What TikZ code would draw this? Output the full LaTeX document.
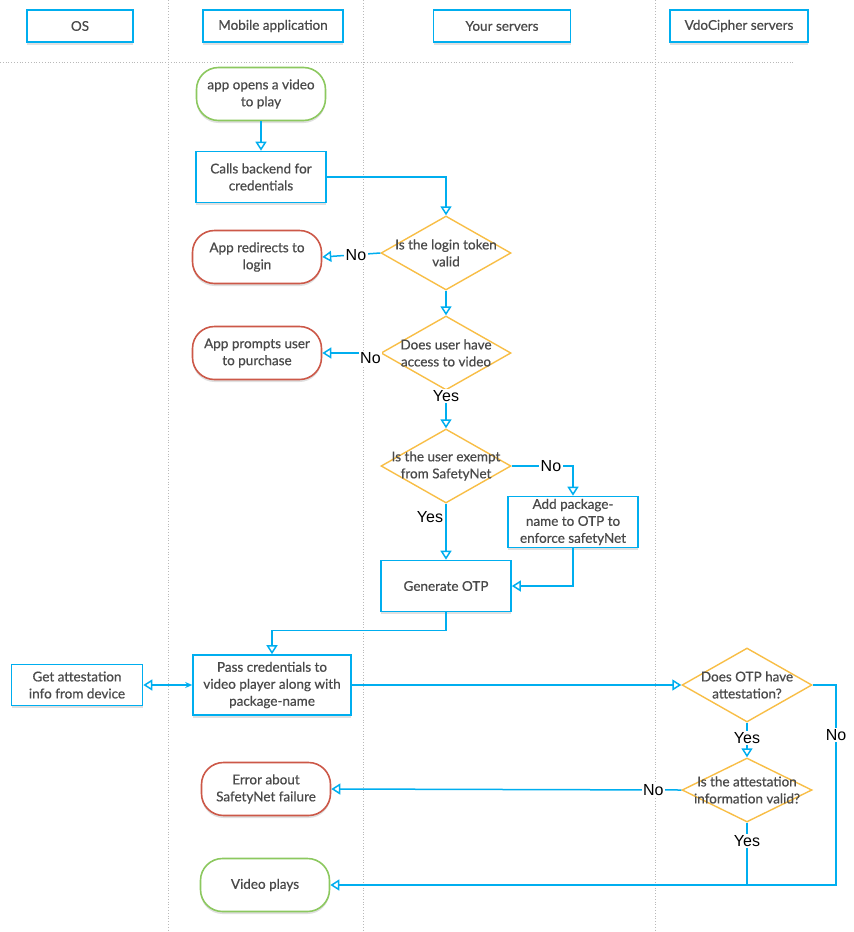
\documentclass[tikz,border=0pt]{standalone}
\usepackage{fontspec}
\setmainfont{Lato}
\newfontfamily\bodyfont{Lato}[FakeBold=0.6]
\newfontfamily\lblfont{Liberation Sans}
\usetikzlibrary{arrows.meta, shapes.geometric, shadows}

\definecolor{flowblue}{RGB}{0,174,239}
\definecolor{flowgold}{RGB}{248,190,70}
\definecolor{flowred}{RGB}{204,88,72}
\definecolor{flowgreen}{RGB}{140,200,95}
\definecolor{flowtext}{RGB}{74,74,74}

\begin{document}
\begin{tikzpicture}[x=1pt, y=-1pt,
    every node/.style={font=\bodyfont\fontsize{13.5}{17}\selectfont, text=flowtext, align=center},
    lane/.style={gray!55, dotted, line width=0.8pt},
    boxshadow/.style={drop shadow={shadow xshift=0pt, shadow yshift=-2.5pt, fill=black!12, opacity=1}},
    head/.style={draw=flowblue, line width=1.8pt, fill=white, minimum height=32pt, boxshadow},
    process/.style={draw=flowblue, line width=1.6pt, fill=white, minimum width=130pt, minimum height=51pt, inner sep=2pt, boxshadow},
    terminal/.style={rounded corners=22pt, line width=1.6pt, fill=white, minimum width=129pt, minimum height=53pt, boxshadow},
    decision/.style={diamond, draw=flowgold, line width=1.4pt, fill=white, minimum width=130pt, minimum height=74pt, inner sep=0pt},
    lbl/.style={font=\lblfont\fontsize{16}{18}\selectfont, text=black, fill=white, inner sep=1.5pt},
    flow/.style={draw=flowblue, line width=1.5pt, -{Triangle[open, length=9pt, width=11pt]}},
]
    \useasboundingbox (0,0) rectangle (854,932);

    % swim lanes
    \draw[lane] (168,0) -- (168,932);
    \draw[lane] (363,0) -- (363,932);
    \draw[lane] (655,0) -- (655,932);
    \draw[lane] (0,62) -- (795,62);

    % lane headers
    \node[head, minimum width=106pt] (hos) at (80,26) {OS};
    \node[head, minimum width=140pt] (hmob) at (273,26) {Mobile application};
    \node[head, minimum width=137pt] (hsrv) at (502,26) {Your servers};
    \node[head, minimum width=138pt] (hvdo) at (739,26) {VdoCipher servers};

    % mobile application
    \node[terminal, draw=flowgreen] (start) at (261,94) {app opens a video\\to play};
    \node[process] (calls) at (261,177) {Calls backend for\\credentials};
    \node[terminal, draw=flowred] (redir) at (257,257) {App redirects to\\login};
    \node[terminal, draw=flowred] (prompt) at (257,353) {App prompts user\\to purchase};
    \node[process, minimum width=158pt, minimum height=60pt] (pass) at (272,685) {Pass credentials to\\video player along with\\package-name};
    \node[terminal, draw=flowred] (err) at (266,789) {Error about\\SafetyNet failure};
    \node[terminal, draw=flowgreen] (play) at (265,885) {Video plays};

    % OS
    \node[process, minimum width=131pt, minimum height=41pt] (attest) at (77,685) {Get attestation\\info from device};

    % your servers
    \node[decision, label={center:Is the login token\\valid}] (login) at (446,253) {};
    \node[decision, label={center:Does user have\\access to video}] (access) at (446,353) {};
    \node[decision, label={center:Is the user exempt\\from SafetyNet}] (exempt) at (446,466) {};
    \node[process] (addpkg) at (573,522) {Add package-\\name to OTP to\\enforce safetyNet};
    \node[process] (otp) at (446,586) {Generate OTP};

    % vdocipher servers
    \node[decision, label={center:Does OTP have\\attestation?}] (hasatt) at (747,685) {};
    \node[decision, minimum height=64pt, label={center:Is the attestation\\information valid?}] (valid) at (747,790) {};
    \coordinate (turn) at (836,685);
    \coordinate (back) at (836,885);

    % flow
    \draw[flow] (start) -- (calls);
    \draw[flow] (calls.east) -| (login.north);
    \draw[flow] (login.west) -- node[lbl, pos=0.42]{No} (redir.east);
    \draw[flow] (login.south) -- (access.north);
    \draw[flow] (access.west) -- node[lbl, pos=0.17, yshift=-5pt]{No} (prompt.east);
    \draw[flow] (access.south) -- node[lbl, pos=0.15]{Yes} (exempt.north);
    \draw[flow] (exempt.east) -| node[lbl, pos=0.32]{No} (addpkg.north);
    \draw[flow] (exempt.south) -- node[lbl, pos=0.23, xshift=-16pt]{Yes} (otp.north);
    \draw[flow] (addpkg.south) |- (otp.east);
    \draw[flow] (otp.south) -- ++(0,18) -| (pass.north);
    \draw[draw=flowblue, line width=1.5pt, {Triangle[open, length=9pt, width=11pt]}-{Stealth[length=7pt, width=6pt]}] (attest.east) -- (pass.west);
    \draw[flow] (pass.east) -- (hasatt.west);
    \draw[flow] (hasatt.south) -- node[lbl, pos=0.45]{Yes} (valid.north);
    \draw[flow] (valid.west) -- node[lbl, pos=0.08]{No} (err.east);
    \draw[flow] (hasatt.east) -- (turn) -- node[lbl, pos=0.25]{No} (back) -- (play.east);
    \draw[draw=flowblue, line width=1.5pt] (valid.south) -- node[lbl, pos=0.3]{Yes} (valid.south |- back);
\end{tikzpicture}
\end{document}
